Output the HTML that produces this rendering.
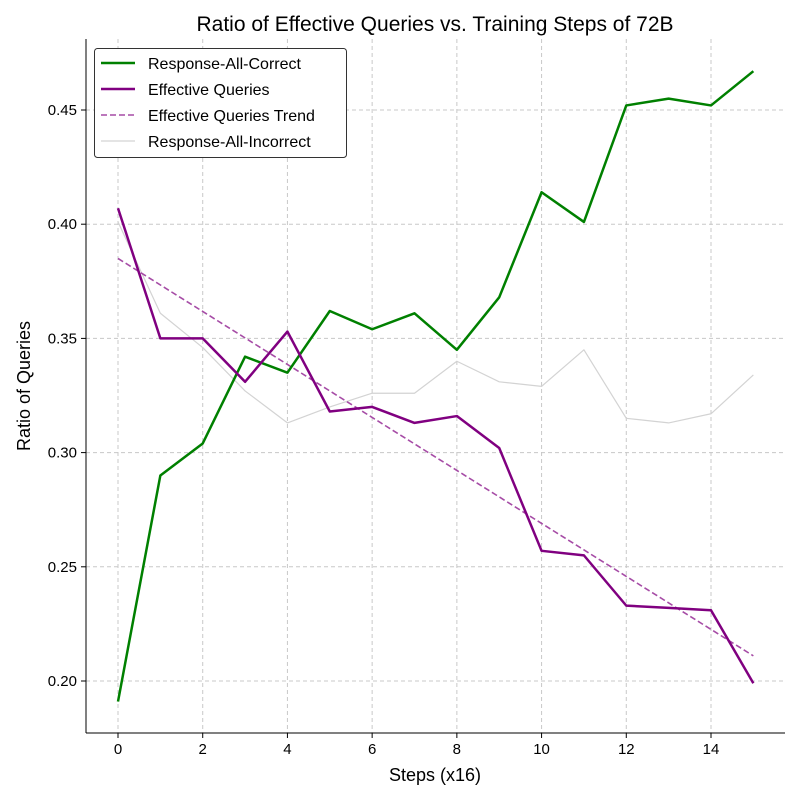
<!DOCTYPE html>
<html><head><meta charset="utf-8"><style>
body{margin:0;background:#fff;}
svg text{font-family:"Liberation Sans","DejaVu Sans",sans-serif;}
</style></head><body>
<svg id="chart" width="800" height="800" xmlns="http://www.w3.org/2000/svg"></svg>
<script>
const steps=[0,1,2,3,4,5,6,7,8,9,10,11,12,13,14,15];
const allCorrect=[0.191,0.290,0.304,0.342,0.335,0.362,0.354,0.361,0.345,0.368,0.414,0.401,0.452,0.455,0.452,0.467];
const effective=[0.407,0.350,0.350,0.331,0.353,0.318,0.320,0.313,0.316,0.302,0.257,0.255,0.233,0.232,0.231,0.199];
const trendEnds=[0.385,0.211];
const allIncorrect=[0.401,0.361,0.346,0.327,0.313,0.320,0.326,0.326,0.340,0.331,0.329,0.345,0.315,0.313,0.317,0.334];
const xTicks=[0,2,4,6,8,10,12,14];
const yTicks=[0.20,0.25,0.30,0.35,0.40,0.45];

const NS="http://www.w3.org/2000/svg";
const svg=document.getElementById('chart');
const L=86,R=785,T=39,B=733;
const xs=v=>118+(v-0)*(711-118)/14;
const ys=v=>681-(v-0.20)*(681-110)/0.25;
function mk(tag,attrs,parent){const e=document.createElementNS(NS,tag);for(const k in attrs)e.setAttribute(k,attrs[k]);(parent||svg).appendChild(e);return e;}

// grid
xTicks.forEach(t=>{
  const g=mk('line',{x1:xs(t),x2:xs(t),y1:T,y2:B,stroke:'#c8c8c8','stroke-dasharray':'4,3','stroke-width':1});
  
  
  const tk=mk('line',{x1:xs(t),x2:xs(t),y1:B,y2:B+5,stroke:'#000'});
  
  
  const tx=mk('text',{x:xs(t),y:B+21,'text-anchor':'middle','font-size':15});
  tx.textContent=t;
  
  
});
yTicks.forEach(t=>{
  const g=mk('line',{x1:L,x2:R,y1:ys(t),y2:ys(t),stroke:'#c8c8c8','stroke-dasharray':'4,3','stroke-width':1});
  
  
  const tk=mk('line',{x1:L-5,x2:L,y1:ys(t),y2:ys(t),stroke:'#000'});
  
  
  const tx=mk('text',{x:L-9,y:ys(t)+5,'text-anchor':'end','font-size':15});
  tx.textContent=t.toFixed(2);
  
  
});
// spines
const sl=mk('line',{x1:L,x2:L,y1:T,y2:B,stroke:'#000','stroke-width':1});


const sb=mk('line',{x1:L,x2:R,y1:B,y2:B,stroke:'#000','stroke-width':1});



function series(vals,color,w,name,dash){
  const p=mk('polyline',{points:vals.map((v,i)=>xs(steps[i])+','+ys(v)).join(' '),fill:'none',stroke:color,'stroke-width':w,'stroke-linejoin':'round'});
  if(dash)p.setAttribute('stroke-dasharray',dash);
  
  
}
series(allIncorrect,'#d3d3d3',1.2,'line-response-all-incorrect');
const tr=mk('line',{x1:xs(steps[0]),y1:ys(trendEnds[0]),x2:xs(steps[steps.length-1]),y2:ys(trendEnds[1]),stroke:'#a64ca6','stroke-width':1.6,'stroke-dasharray':'6,3'});


series(allCorrect,'#008000',2.5,'line-response-all-correct');
series(effective,'#800080',2.5,'line-effective-queries');

// title & labels
const ti=mk('text',{x:435,y:31,'text-anchor':'middle','font-size':21});
ti.textContent='Ratio of Effective Queries vs. Training Steps of 72B';


const xl=mk('text',{x:435,y:781,'text-anchor':'middle','font-size':18});
xl.textContent='Steps (x16)';


const yl=mk('text',{x:30,y:386,'text-anchor':'middle','font-size':18,transform:'rotate(-90 30 386)'});
yl.textContent='Ratio of Queries';



// legend
const lg=mk('g',{});


mk('rect',{x:94.5,y:48.5,width:252,height:109,rx:3,fill:'#fff',stroke:'#333','stroke-width':1},lg);
const items=[['Response-All-Correct','#008000',2.5,null],['Effective Queries','#800080',2.5,null],['Effective Queries Trend','#a64ca6',1.6,'6,3'],['Response-All-Incorrect','#d3d3d3',1.2,null]];
items.forEach((it,i)=>{
  const y=63+i*26;
  const ln=mk('line',{x1:101,x2:135,y1:y,y2:y,stroke:it[1],'stroke-width':it[2]},lg);
  if(it[3])ln.setAttribute('stroke-dasharray',it[3]);
  
  
  const t=mk('text',{x:148,y:y+6,'font-size':16},lg);
  t.textContent=it[0];
  
  
});
</script>
</body></html>
